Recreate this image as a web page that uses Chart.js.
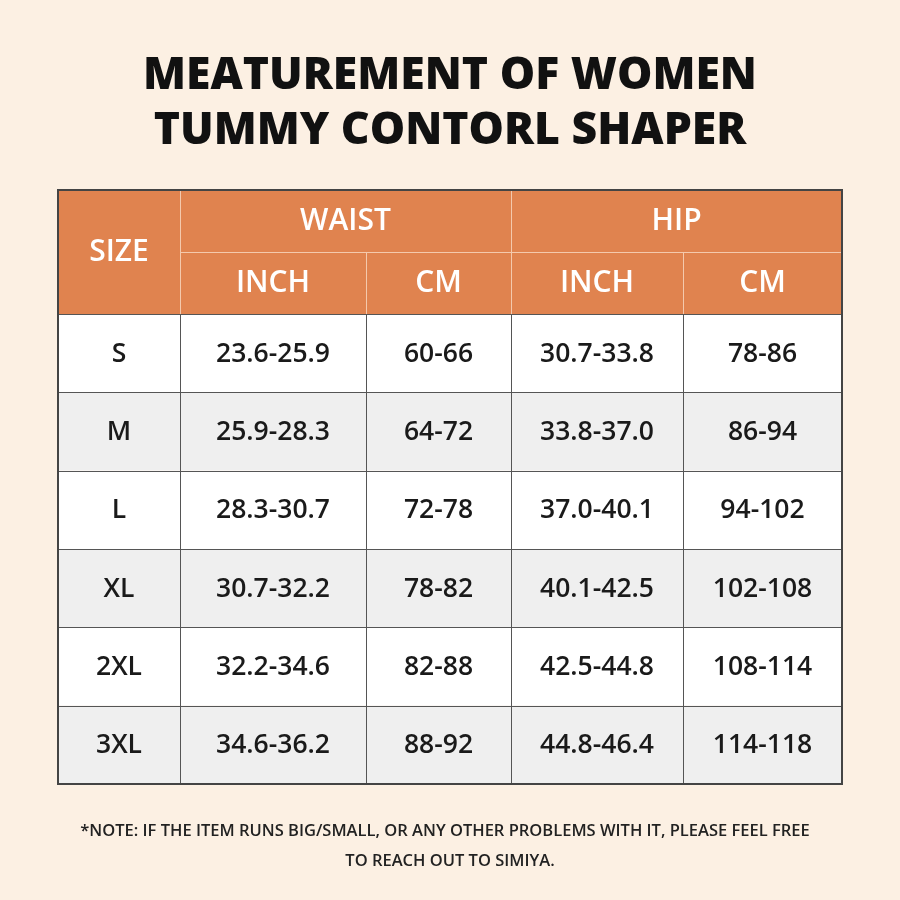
<!DOCTYPE html>
<html><head><meta charset="utf-8">
<script src="https://cdn.jsdelivr.net/npm/chart.js@4"></script>
<style>html,body{margin:0;padding:0;background:#fcf0e3;}canvas{display:block}</style>
</head><body>
<div style="width:900px;height:900px"><canvas id="c"></canvas></div>
<script>
const titleLines = ["MEATUREMENT OF WOMEN", "TUMMY CONTORL SHAPER"];
const groupHeaders = ["WAIST", "HIP"];
const subHeaders = ["INCH", "CM", "INCH", "CM"];
const sizes = ["S", "M", "L", "XL", "2XL", "3XL"];
const waistInch = ["23.6-25.9", "25.9-28.3", "28.3-30.7", "30.7-32.2", "32.2-34.6", "34.6-36.2"];
const waistCm = ["60-66", "64-72", "72-78", "78-82", "82-88", "88-92"];
const hipInch = ["30.7-33.8", "33.8-37.0", "37.0-40.1", "40.1-42.5", "42.5-44.8", "44.8-46.4"];
const hipCm = ["78-86", "86-94", "94-102", "102-108", "108-114", "114-118"];
const noteLines = ["*NOTE: IF THE ITEM RUNS BIG/SMALL, OR ANY OTHER PROBLEMS WITH IT, PLEASE FEEL FREE", "TO REACH OUT TO SIMIYA."];

// layout (relative units)
const colW = [122, 186, 145, 172, 159];
const headH = 62, rowH = 78.3;
const colX = [0]; colW.forEach(w => colX.push(colX[colX.length-1] + w));
const rowY = [0, headH, headH*2]; sizes.forEach(() => rowY.push(rowY[rowY.length-1] + rowH));

const tablePlugin = {
  id: 'table',
  afterDraw(chart) {
    const {ctx, scales: {x, y}} = chart;
    const X = v => x.getPixelForValue(v), Y = v => y.getPixelForValue(v);
    const orange = '#e0834f';
    ctx.save();
    ctx.fillStyle = orange;
    ctx.fillRect(X(0), Y(0), X(colX[5]) - X(0), Y(rowY[2]) - Y(0));
    sizes.forEach((s, i) => {
      ctx.fillStyle = i % 2 ? '#efefef' : '#ffffff';
      ctx.fillRect(X(0), Y(rowY[i+2]), X(colX[5]) - X(0), Y(rowY[i+3]) - Y(rowY[i+2]));
    });
    ctx.lineWidth = 1;
    const hl = (yv, x0, x1, col) => { ctx.strokeStyle = col; ctx.beginPath(); ctx.moveTo(X(x0), Math.round(Y(yv))+0.5); ctx.lineTo(X(x1), Math.round(Y(yv))+0.5); ctx.stroke(); };
    const vl = (xv, y0, y1, col) => { ctx.strokeStyle = col; ctx.beginPath(); ctx.moveTo(Math.round(X(xv))+0.5, Y(y0)); ctx.lineTo(Math.round(X(xv))+0.5, Y(y1)); ctx.stroke(); };
    hl(rowY[1], colX[1], colX[5], '#f4c9ad');
    for (let i = 2; i < rowY.length - 1; i++) hl(rowY[i], 0, colX[5], '#555');
    vl(colX[1], 0, rowY[rowY.length-1], '#f4c9ad');
    vl(colX[3], 0, rowY[rowY.length-1], '#f4c9ad');
    vl(colX[2], rowY[1], rowY[2], '#f4c9ad');
    vl(colX[4], rowY[1], rowY[2], '#f4c9ad');
    [1,2,3,4].forEach(c => vl(colX[c], rowY[2], rowY[rowY.length-1], '#555'));
    ctx.lineWidth = 2; ctx.strokeStyle = '#444';
    ctx.strokeRect(X(0), Y(0), X(colX[5]) - X(0), Y(rowY[rowY.length-1]) - Y(0));
    ctx.textAlign = 'center'; ctx.textBaseline = 'middle';
    ctx.fillStyle = '#fff'; ctx.font = '600 30px "Open Sans"';
    ctx.fillText('SIZE', (X(colX[0]) + X(colX[1]))/2, (Y(0) + Y(rowY[2]))/2);
    ctx.fillText(groupHeaders[0], (X(colX[1]) + X(colX[3]))/2, (Y(0) + Y(rowY[1]))/2);
    ctx.fillText(groupHeaders[1], (X(colX[3]) + X(colX[5]))/2, (Y(0) + Y(rowY[1]))/2);
    subHeaders.forEach((h, i) => ctx.fillText(h, (X(colX[i+1]) + X(colX[i+2]))/2, (Y(rowY[1]) + Y(rowY[2]))/2));
    ctx.fillStyle = '#1a1a1a'; ctx.font = '600 26.5px "Open Sans"';
    const cols = [sizes, waistInch, waistCm, hipInch, hipCm];
    sizes.forEach((_, r) => cols.forEach((arr, c) => {
      ctx.fillText(arr[r], (X(colX[c]) + X(colX[c+1]))/2, (Y(rowY[r+2]) + Y(rowY[r+3]))/2 + 1);
    }));
    ctx.fillStyle = '#111'; ctx.font = '800 44.5px "Open Sans"';
    ctx.fillText(titleLines[0], 450, 76);
    ctx.fillText(titleLines[1], 450, 131);
    ctx.font = '600 16.5px "Open Sans"'; ctx.fillStyle = '#222';
    ctx.fillText(noteLines[0], 445, 831);
    ctx.fillText(noteLines[1], 450, 861);
    ctx.restore();
  }
};

new Chart(document.getElementById('c'), {
  type: 'scatter',
  data: { datasets: [{ data: [] }] },
  options: {
    responsive: true, maintainAspectRatio: false, animation: false,
    layout: { padding: { left: 58, right: 58, top: 190, bottom: 116 } },
    plugins: { legend: { display: false }, tooltip: { enabled: false } },
    scales: {
      x: { type: 'linear', min: 0, max: colX[5], display: false },
      y: { type: 'linear', min: 0, max: rowY[rowY.length-1], reverse: true, display: false }
    }
  },
  plugins: [tablePlugin]
});
</script>
</body></html>
